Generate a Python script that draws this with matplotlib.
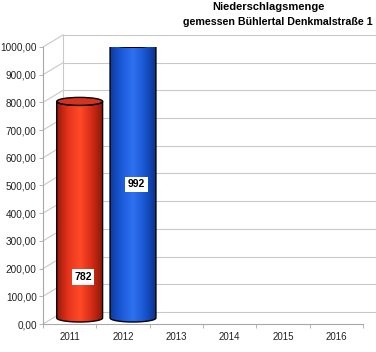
import matplotlib
matplotlib.use('Agg')
import matplotlib.pyplot as plt
import numpy as np
from matplotlib.patches import PathPatch, Ellipse
from matplotlib.path import Path
from matplotlib.colors import LinearSegmentedColormap

# data
years = ['2011', '2012', '2013', '2014', '2015', '2016']
values = [782, 992]          # only 2011 and 2012 measured
label_y = [170, 505]         # where the value boxes sit
yticks = list(range(0, 1001, 100))

plt.rcParams['font.family'] = ['Liberation Sans', 'DejaVu Sans']

fig = plt.figure(figsize=(3.76, 3.52), dpi=100)
ax = fig.add_axes([43 / 376, 28 / 352, 320 / 376, 277 / 352])
ax.set_xlim(-0.5, len(years) - 0.5)
ax.set_ylim(0, 1000)


def depth(frac):
    # pixel depth of the 3D box (20px right, 12px up) as data offsets
    p0 = ax.transData.transform((0, 0))
    p1 = ax.transData.inverted().transform(p0 + np.array([20 * frac, 12 * frac]))
    return p1[0], p1[1]


dx, dy = depth(1.0)
grid_c = '#c9c9c9'
x0 = -0.5

# back wall + left side wall
for v in yticks:
    ax.plot([x0, x0 + dx], [v, v + dy], color=grid_c, lw=0.8, clip_on=False)
    ax.plot([x0 + dx, len(years) + 1], [v + dy, v + dy], color=grid_c, lw=0.8, clip_on=False)
ax.plot([x0 + dx, x0 + dx], [dy, 1000 + dy], color=grid_c, lw=0.8, clip_on=False)

# cylinders
cmaps = [
    LinearSegmentedColormap.from_list('r', ['#9c1a0c', '#e8341c', '#ff4a28', '#d62c16', '#8a1608']),
    LinearSegmentedColormap.from_list('b', ['#0c3aa0', '#1c5ad8', '#2e72f0', '#1a56d2', '#0a3290']),
]
top_colors = ['#d8321c', '#1a54cc']
mx, my = depth(0.5)
w = 0.43
_, eh = ax.transData.inverted().transform(ax.transData.transform((0, 0)) + np.array([0, 4]))

for i, v in enumerate(values):
    cx = i + mx
    base = my
    top = v + my
    t = np.linspace(np.pi, 2 * np.pi, 40)
    bx = cx + w * np.cos(t)
    by = base + eh * np.sin(t)
    tx = (cx + w * np.cos(t))[::-1]
    ty = (top + eh * np.sin(t))[::-1]
    verts = np.vstack([np.column_stack([bx, by]), np.column_stack([tx, ty]), [[bx[0], by[0]]]])
    codes = [Path.MOVETO] + [Path.LINETO] * (len(verts) - 2) + [Path.CLOSEPOLY]
    body = PathPatch(Path(verts, codes), facecolor='none', edgecolor='black', lw=1.0, zorder=3)
    ax.add_patch(body)
    grad = np.linspace(0, 1, 200).reshape(1, -1)
    im = ax.imshow(grad, cmap=cmaps[i], aspect='auto', extent=[cx - w, cx + w, base - eh, top + eh],
                   zorder=2, interpolation='bicubic')
    im.set_clip_path(body)
    ax.add_patch(Ellipse((cx, top), 2 * w, 2 * eh, facecolor=top_colors[i], edgecolor='black',
                         lw=1.0, zorder=4))
    ax.text(i + 0.25, label_y[i], str(v), ha='center', va='center', fontsize=7.5,
            fontweight='bold', zorder=5,
            bbox=dict(boxstyle='square,pad=0.25', fc='white', ec='none'))

ax.set_xlim(-0.5, len(years) - 0.5)
ax.set_ylim(0, 1000)

# axes
for s in ['top', 'right']:
    ax.spines[s].set_visible(False)
for s in ['left', 'bottom']:
    ax.spines[s].set_color('#a8a8a8')
    ax.spines[s].set_linewidth(0.8)
ax.set_yticks(yticks)
ax.set_yticklabels([f'{v:.2f}'.replace('.', ',') for v in yticks], fontsize=7.2, color='#222222')
ax.set_xticks(range(len(years)))
ax.set_xticklabels(years, fontsize=7, color='#222222')
ax.set_xticks(np.arange(-0.5, len(years)), minor=True)
ax.tick_params(axis='y', length=3, width=0.6, color='#a8a8a8', pad=1.5)
ax.tick_params(axis='x', which='major', length=0, pad=6)
ax.tick_params(axis='x', which='minor', length=3, width=0.6, color='#a8a8a8')
ax.patch.set_visible(False)

fig.text(268 / 376, 1 - 10 / 352, 'Niederschlagsmenge', ha='center', va='baseline',
         fontsize=8, fontweight='bold')
fig.text(373 / 376, 1 - 25 / 352, 'gemessen Bühlertal Denkmalstraße 1', ha='right', va='baseline',
         fontsize=7.7, fontweight='bold')

fig.savefig('out.png', dpi=100)
